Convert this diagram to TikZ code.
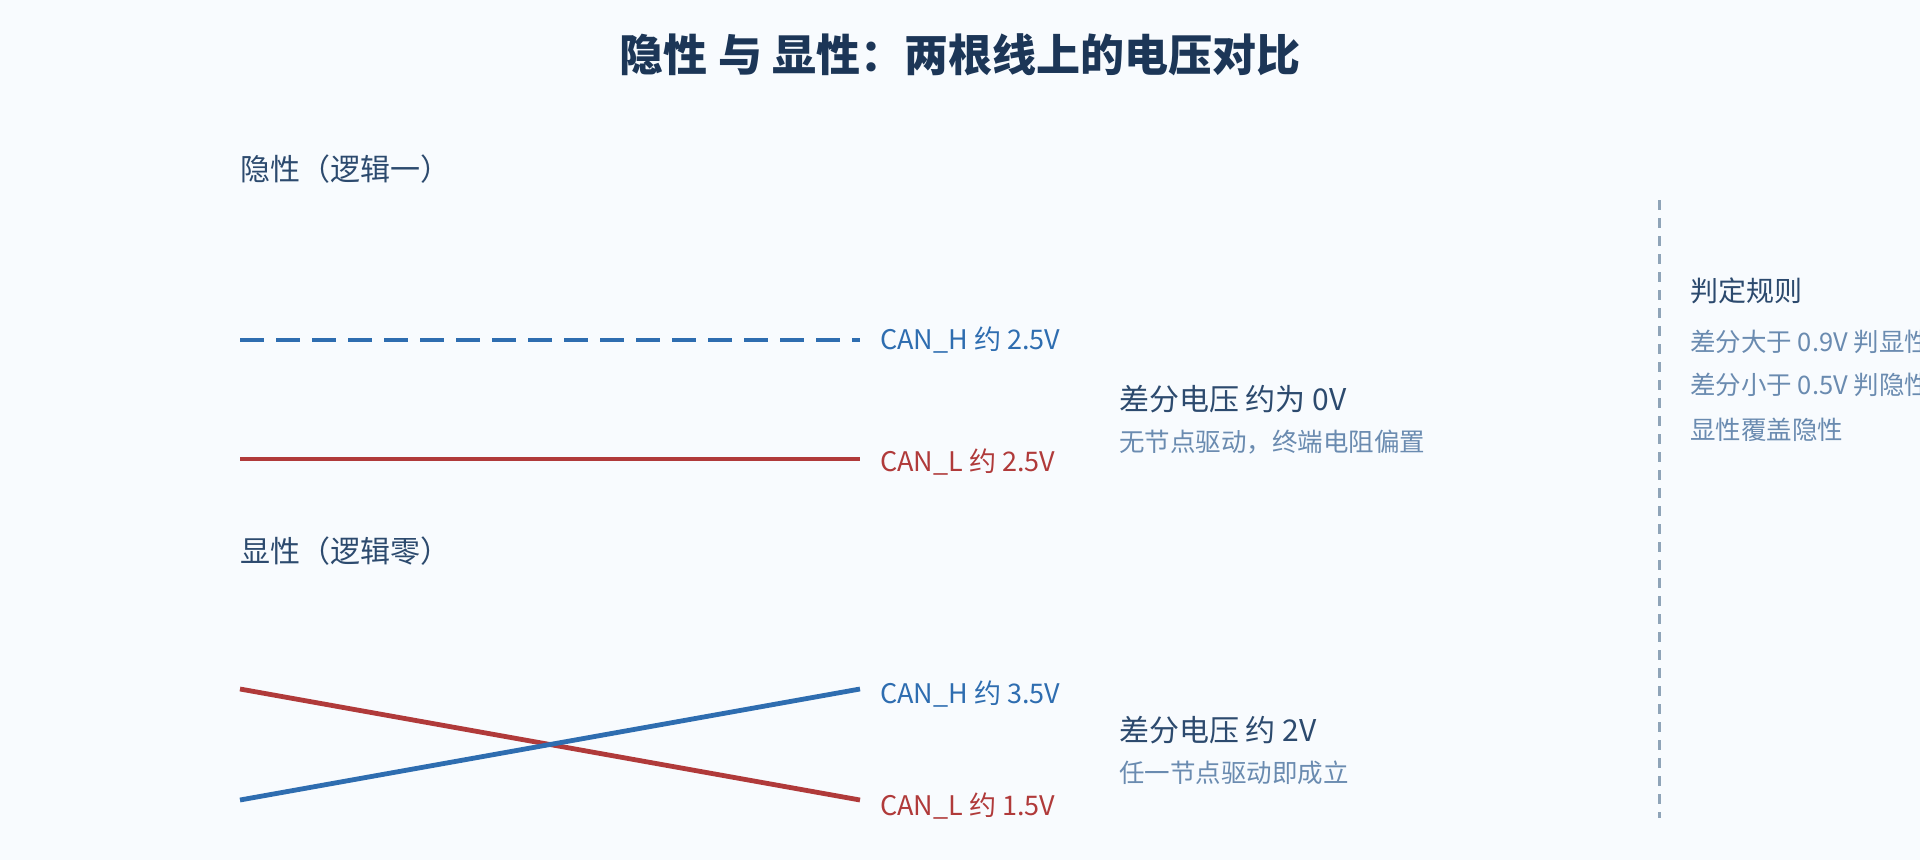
\documentclass[tikz,border=0pt]{standalone}
\usepackage{fontspec}
\setmainfont{Noto Sans CJK SC}
\begin{document}
\begin{tikzpicture}[x=1pt,y=-1pt,
  every node/.style={inner sep=0pt},
  lbl/.style={anchor=west,font=\fontsize{27}{32}\selectfont},
  sec/.style={anchor=west,font=\fontsize{30}{36}\selectfont,text=secc},
  sub/.style={anchor=west,font=\fontsize{25.5}{30}\selectfont,text=subc},
  wire/.style={line width=4.8pt}]
\definecolor{bg}{HTML}{F8FBFE}
\definecolor{titc}{HTML}{1C3657}
\definecolor{blu}{HTML}{2E6DB0}
\definecolor{rd}{HTML}{B03A3A}
\definecolor{secc}{HTML}{2C4A6E}
\definecolor{subc}{HTML}{6A8BB0}
\definecolor{dsh}{HTML}{8FA4B8}
\fill[bg] (0,0) rectangle (1920,860);
\useasboundingbox (0,0) rectangle (1920,860);
\node[font=\bfseries\fontsize{44}{50}\selectfont,text=titc] (title) at (960,55) {隐性 与 显性：两根线上的电压对比};
\node[sec] (s1) at (240,169) {隐性（逻辑一）};
\node[sec] (s2) at (240,551) {显性（逻辑零）};
% recessive
\coordinate (h1a) at (240,340); \coordinate (h1b) at (860,340);
\coordinate (l1a) at (240,459); \coordinate (l1b) at (860,459);
\draw[wire,blu,dash pattern=on 24pt off 12pt] (h1a) -- (h1b);
\draw[wire,rd] (l1a) -- (l1b);
\node[lbl,text=blu] (lh1) at (880,340) {CAN\_H 约 2.5V};
\node[lbl,text=rd] (ll1) at (880,462) {CAN\_L 约 2.5V};
\node[sec] (d1) at (1119,399) {差分电压 约为 0V};
\node[sub] (d1s) at (1119,442) {无节点驱动，终端电阻偏置};
% dominant
\coordinate (l2a) at (240,689); \coordinate (l2b) at (860,800);
\coordinate (h2a) at (240,800); \coordinate (h2b) at (860,689);
\draw[wire,rd] (l2a) -- (l2b);
\draw[wire,blu] (h2a) -- (h2b);
\node[lbl,text=blu] (lh2) at (880,694) {CAN\_H 约 3.5V};
\node[lbl,text=rd] (ll2) at (880,806) {CAN\_L 约 1.5V};
\node[sec] (d2) at (1119,730) {差分电压 约 2V};
\node[sub] (d2s) at (1119,773) {任一节点驱动即成立};
% rules
\coordinate (va) at (1659,200); \coordinate (vb) at (1659,818);
\draw[dsh,line width=3pt,dash pattern=on 10pt off 8pt] (va) -- (vb);
\node[sec,font=\fontsize{28}{34}\selectfont] (r0) at (1690,291) {判定规则};
\node[sub] (r1) at (1690,342) {差分大于 0.9V 判显性};
\node[sub] (r2) at (1690,385) {差分小于 0.5V 判隐性};
\node[sub] (r3) at (1690,430) {显性覆盖隐性};
\end{tikzpicture}
\end{document}
